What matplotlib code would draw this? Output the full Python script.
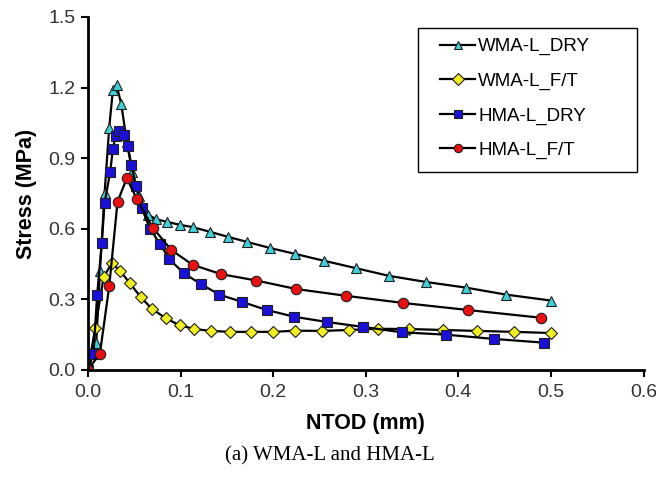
import matplotlib
matplotlib.use("Agg")
import matplotlib.pyplot as plt
from matplotlib.patches import Rectangle

plt.rcParams['font.family'] = ['Liberation Sans', 'DejaVu Sans']

# WMA-L dry (cyan triangles)
wd_x = [0.0, 0.009, 0.013, 0.018, 0.023, 0.027, 0.031, 0.036, 0.042, 0.048, 0.055,
        0.065, 0.074, 0.085, 0.099, 0.113, 0.132, 0.151, 0.172, 0.197, 0.224,
        0.255, 0.289, 0.325, 0.365, 0.408, 0.452, 0.50]
wd_y = [0.0, 0.115, 0.42, 0.75, 1.03, 1.19, 1.21, 1.13, 0.97, 0.84, 0.74,
        0.66, 0.64, 0.63, 0.617, 0.607, 0.587, 0.566, 0.544, 0.518, 0.493,
        0.464, 0.433, 0.40, 0.374, 0.35, 0.32, 0.295]

# WMA-L F/T (yellow diamonds)
wf_x = [0.0, 0.008, 0.017, 0.026, 0.035, 0.045, 0.057, 0.069, 0.084, 0.099,
        0.115, 0.133, 0.153, 0.176, 0.2, 0.224, 0.253, 0.282, 0.313, 0.347,
        0.383, 0.42, 0.46, 0.50]
wf_y = [0.0, 0.18, 0.395, 0.455, 0.42, 0.37, 0.31, 0.26, 0.22, 0.19,
        0.174, 0.166, 0.162, 0.162, 0.162, 0.167, 0.166, 0.17, 0.175, 0.174,
        0.17, 0.166, 0.162, 0.157]

# HMA-L dry (blue squares)
hd_x = [0.0, 0.006, 0.01, 0.015, 0.018, 0.024, 0.027, 0.03, 0.034, 0.039,
        0.043, 0.047, 0.052, 0.058, 0.067, 0.078, 0.088, 0.104, 0.122, 0.142,
        0.166, 0.193, 0.223, 0.258, 0.297, 0.339, 0.387, 0.438, 0.493]
hd_y = [0.0, 0.07, 0.32, 0.54, 0.71, 0.84, 0.94, 0.995, 1.015, 1.0,
        0.95, 0.87, 0.78, 0.69, 0.60, 0.535, 0.47, 0.41, 0.365, 0.32,
        0.29, 0.255, 0.226, 0.204, 0.183, 0.16, 0.15, 0.132, 0.116]

# HMA-L F/T (red circles)
hf_x = [0.0, 0.013, 0.023, 0.032, 0.042, 0.053, 0.07, 0.09, 0.113, 0.144,
        0.182, 0.225, 0.279, 0.34, 0.41, 0.489]
hf_y = [0.0, 0.07, 0.355, 0.715, 0.815, 0.725, 0.605, 0.51, 0.447, 0.407,
        0.38, 0.344, 0.315, 0.285, 0.255, 0.222]

fig = plt.figure(figsize=(6.56, 4.79), dpi=100)
ax = fig.add_axes([0.134, 0.2276, 0.847, 0.737])

mk = dict(color='black', lw=1.6, markersize=7.5, markeredgecolor='#202020', markeredgewidth=0.8)
ax.plot(wd_x, wd_y, marker='^', markerfacecolor='#40d0d8', label='WMA-L_DRY', **mk)
ax.plot(wf_x, wf_y, marker='D', markerfacecolor='#f0f020', label='WMA-L_F/T',
        **dict(mk, markersize=6))
ax.plot(hd_x, hd_y, marker='s', markerfacecolor='#1a10d8', label='HMA-L_DRY', **mk)
ax.plot(hf_x, hf_y, marker='o', markerfacecolor='#e81010', label='HMA-L_F/T', **mk)

ax.set_xlim(0, 0.6)
ax.set_ylim(0, 1.5)
ax.set_xticks([0.0, 0.1, 0.2, 0.3, 0.4, 0.5, 0.6])
ax.set_yticks([0.0, 0.3, 0.6, 0.9, 1.2, 1.5])
ax.xaxis.set_major_formatter(matplotlib.ticker.FormatStrFormatter('%.1f'))
ax.yaxis.set_major_formatter(matplotlib.ticker.FormatStrFormatter('%.1f'))
ax.tick_params(direction='out', length=5, width=1.5, labelsize=14, labelcolor='#333333')
ax.tick_params(axis='y', pad=4)
ax.tick_params(axis='x', pad=5)
for s in ['top', 'right']:
    ax.spines[s].set_visible(False)
for s in ['left', 'bottom']:
    ax.spines[s].set_linewidth(2)
ax.patch.set_alpha(0)

ax.set_xlabel('NTOD (mm)', fontsize=15.5, fontweight='bold', labelpad=9)
ax.set_ylabel('Stress (MPa)', fontsize=15.5, fontweight='bold', labelpad=8)

# legend box drawn separately (it is wider than the entries)
ax.add_patch(Rectangle((0.594, 0.561), 0.394, 0.408, transform=ax.transAxes,
                       facecolor='white', edgecolor='black', lw=1.0, zorder=5,
                       clip_on=False))
leg = ax.legend(loc='upper left', bbox_to_anchor=(0.634, 0.94), fontsize=13.5,
                frameon=False, handlelength=1.87, labelspacing=0.92,
                borderpad=0, handletextpad=0.16, borderaxespad=0)
leg.set_zorder(6)
for h in leg.legend_handles:
    h.set_markersize(6)

fig.text(0.503, 0.048, '(a) WMA-L and HMA-L', ha='center', va='center',
         fontsize=15, family='Liberation Serif')

fig.savefig('out.png', dpi=100)
